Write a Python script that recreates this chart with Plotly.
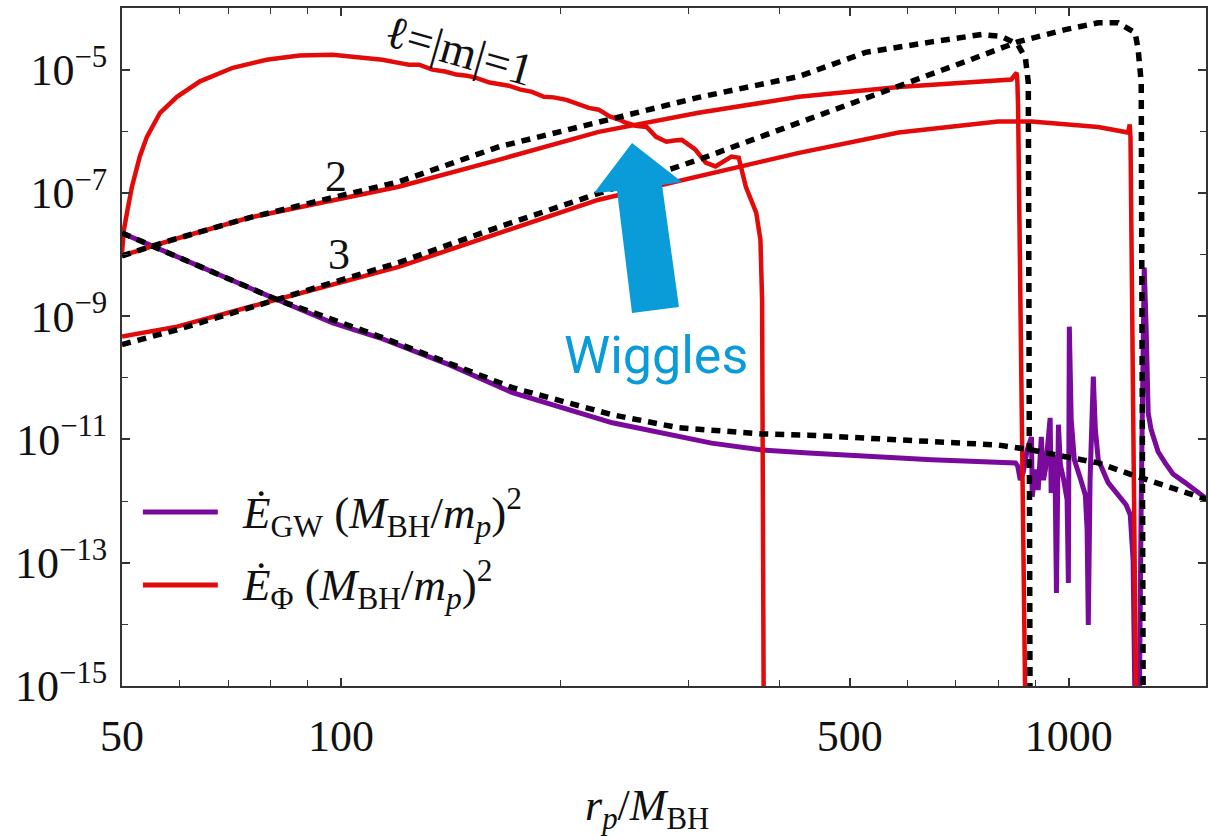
import numpy as np
import plotly.graph_objects as go

# ---------------- data (r_p / M_BH , log10 of energy flux) ----------------
# scalar flux, l=|m|=1 (red)
l1_r = [50, 50.3, 50.8, 51.6, 52.9, 54.1, 56.4, 59.5, 64.0, 71.0, 79.0, 87.7, 97.4, 108, 114,
        120, 124, 128, 133.5, 139, 144, 149, 153, 160, 165, 170, 176, 183, 190, 196, 204,
        212, 219, 226, 234, 241, 246, 254, 263, 271, 280, 287, 294, 307, 317, 327, 338,
        344, 352, 360, 372, 375, 377, 379, 381]
l1_logE = [-7.97, -7.60, -7.32, -6.90, -6.41, -6.09, -5.70, -5.44, -5.19, -4.97, -4.84, -4.77,
           -4.76, -4.81, -4.84, -4.89, -4.92, -4.92, -5.00, -5.03, -5.08, -5.10, -5.13, -5.21,
           -5.24, -5.26, -5.32, -5.36, -5.44, -5.45, -5.49, -5.57, -5.62, -5.65, -5.76, -5.81,
           -5.86, -5.91, -5.93, -6.09, -6.17, -6.15, -6.14, -6.30, -6.51, -6.57, -6.46, -6.41,
           -6.43, -6.90, -7.32, -7.55, -7.76, -8.73, -15.5]

# scalar flux, l=|m|=2 (red) and its analytic approximation (black dashed)
l2_r = [50, 58.7, 74.9, 120, 165, 226, 310, 426, 584, 800, 834, 848, 850, 852, 872]
l2_logE = [-8.02, -7.76, -7.40, -6.90, -6.46, -6.01, -5.70, -5.44, -5.28, -5.16, -5.16,
           -5.05, -5.17, -5.60, -15.5]
l2a_r = [50, 58.7, 74.9, 120, 165, 226, 310, 426, 526, 648, 759, 808, 851, 872, 880, 885]
l2a_logE = [-8.02, -7.76, -7.40, -6.82, -6.25, -5.86, -5.45, -5.11, -4.72, -4.55, -4.43,
            -4.46, -4.59, -4.81, -5.21, -15.5]

# scalar flux, l=|m|=3 (red) and its analytic approximation (black dashed)
l3_r = [50, 59.5, 81.6, 120, 226, 426, 584, 800, 889, 1098, 1207, 1213, 1216, 1238]
l3_logE = [-9.33, -9.17, -8.73, -8.20, -7.11, -6.35, -6.02, -5.84, -5.84, -5.93, -6.02,
           -5.89, -6.10, -15.5]
l3a_r = [50, 59.5, 81.6, 120, 165, 226, 310, 426, 584, 721, 851, 989, 1098, 1169, 1234,
         1246, 1258, 1266]
l3a_logE = [-9.46, -9.22, -8.73, -8.13, -7.55, -7.00, -6.46, -5.86, -5.28, -4.87, -4.55,
            -4.35, -4.24, -4.24, -4.40, -4.68, -5.21, -15.5]

# gravitational-wave flux (purple) and its analytic approximation (black dashed)
gw_r = [50, 64, 81.6, 97.4, 113, 141, 172, 236, 323, 379, 439, 648, 800, 845, 851, 858, 866,
        877, 889, 891, 900, 908, 917, 923, 929, 937, 943, 946, 955, 958, 962, 968, 974, 983,
        995, 999, 1002, 1008, 1018, 1037, 1054, 1060, 1064, 1070, 1081, 1088, 1098, 1133,
        1169, 1199, 1215, 1226, 1234, 1250, 1258, 1270, 1278, 1286, 1298, 1327, 1357, 1391,
        1445, 1554]
gw_logE = [-7.65, -8.20, -8.73, -9.11, -9.35, -9.79, -10.24, -10.73, -11.06, -11.17, -11.22,
           -11.33, -11.38, -11.38, -11.43, -11.66, -11.53, -11.17, -10.96, -11.93, -11.49,
           -11.82, -10.96, -11.66, -11.49, -11.01, -10.65, -11.87, -11.25, -11.66, -13.49,
           -10.76, -11.41, -11.62, -11.98, -13.33, -9.17, -10.68, -11.33, -11.62, -11.90,
           -12.47, -14.01, -11.66, -9.98, -10.84, -11.33, -11.70, -11.90, -12.06, -12.22,
           -12.95, -15.5, -15.5, -11.98, -8.21, -9.22, -10.57, -10.84, -11.20, -11.38,
           -11.56, -11.70, -11.98]
gwa_r = [50, 81.6, 113, 172, 236, 291, 379, 439, 800, 889, 989, 1098, 1219, 1369, 1554]
gwa_logE = [-7.65, -8.73, -9.33, -10.16, -10.60, -10.81, -10.91, -10.93, -11.09, -11.17,
            -11.28, -11.38, -11.57, -11.77, -11.98]

x_ticks = [50, 100, 500, 1000]
x_minor = [60, 70, 80, 90, 200, 300, 400, 600, 700, 800, 900]
y_exp_major = [-15, -13, -11, -9, -7, -5]
y_exp_minor = [-14, -12, -10, -8, -6]

legend_names = ["<i>Ė</i><sub>GW</sub> (<i>M</i><sub>BH</sub>/<i>m<sub>p</sub></i>)<sup>2</sup>",
                "<i>Ė</i><sub>Φ</sub> (<i>M</i><sub>BH</sub>/<i>m<sub>p</sub></i>)<sup>2</sup>"]

# ---------------- style ----------------
RED = "#e30a0a"
PURPLE = "#7a0a9c"
BLUE = "#0a9bd9"
SERIF = "Liberation Serif, Times New Roman, serif"
FS = 44
TXT = "#111"

fig = go.Figure()

def add_line(r, logE, color, width, dash="solid"):
    fig.add_trace(go.Scatter(x=r, y=np.power(10.0, logE), mode="lines",
                             line=dict(color=color, width=width, dash=dash),
                             showlegend=False, hoverinfo="skip"))

add_line(gw_r, gw_logE, PURPLE, 5)
add_line(l1_r, l1_logE, RED, 4.5)
add_line(l2_r, l2_logE, RED, 4.5)
add_line(l3_r, l3_logE, RED, 4.5)
add_line(gwa_r, gwa_logE, "black", 5.5, "9px,7px")
add_line(l2a_r, l2a_logE, "black", 5.5, "9px,7px")
add_line(l3a_r, l3a_logE, "black", 5.5, "9px,7px")

axis_common = dict(type="log", showgrid=False, zeroline=False, showline=True,
                   linecolor="#333", linewidth=2, mirror="ticks", ticks="inside",
                   ticklen=8, tickwidth=1.5, tickcolor="#333",
                   tickfont=dict(family=SERIF, size=FS, color=TXT))

fig.update_xaxes(**axis_common, range=[np.log10(50), 3.1887],
                 tickvals=x_ticks, ticktext=[str(v) for v in x_ticks],
                 ticklabelstandoff=10,
                 minor=dict(tickvals=x_minor, ticks="inside", ticklen=6,
                            tickwidth=1.2, tickcolor="#333"))
fig.update_yaxes(**axis_common, range=[-15, -4],
                 tickvals=[10.0 ** e for e in y_exp_major],
                 ticktext=["10<sup>\u2212%d</sup>" % (-e) for e in y_exp_major],
                 ticklabelstandoff=4,
                 minor=dict(tickvals=[10.0 ** e for e in y_exp_minor], ticks="inside",
                            ticklen=6, tickwidth=1.2, tickcolor="#333"))

def label(x, y, text, **kw):
    font = kw.pop("font", dict(family=SERIF, size=FS, color=TXT))
    fig.add_annotation(xref="paper", yref="paper", x=x, y=y, text=text, showarrow=False,
                       xanchor=kw.pop("xanchor", "center"), yanchor=kw.pop("yanchor", "middle"),
                       font=font, **kw)

# legend drawn manually (long line samples)
for name, color, yp in zip(legend_names, [PURPLE, RED], [0.2566, 0.149]):
    fig.add_shape(type="line", xref="paper", yref="paper", x0=0.0193, x1=0.0884,
                  y0=yp, y1=yp, line=dict(color=color, width=5))
    label(0.1087, yp, name, xanchor="left",
          font=dict(family=SERIF, size=45, color=TXT))

# curve labels
label(0.311, 0.938, "ℓ=|m|=1", textangle=16,
      font=dict(family=SERIF, size=46, color=TXT))
label(0.197, 0.752, "2")
label(0.1998, 0.6357, "3")

# x-axis title
label(0.4843, -0.18, "<i>r<sub>p</sub></i>/<i>M</i><sub>BH</sub>")

# "Wiggles" call-out with block arrow
label(0.4926, 0.4882, "Wiggles", font=dict(family="Roboto", size=52, color=BLUE))
arrow = [(0.4705, 0.8009), (0.4355, 0.7271), (0.4567, 0.7301), (0.4705, 0.5501),
         (0.5138, 0.5590), (0.4982, 0.7389), (0.5166, 0.7434)]
path = "M " + " L ".join("%.4f,%.4f" % p for p in arrow) + " Z"
fig.add_shape(type="path", xref="paper", yref="paper", path=path,
              fillcolor=BLUE, line=dict(width=0))

fig.update_layout(width=1210, height=836, plot_bgcolor="white", paper_bgcolor="white",
                  margin=dict(l=122, r=2, t=8, b=150), showlegend=False)

fig.write_html("out.html", config={"displayModeBar": False},
               post_script="document.body.style.margin='0px';")
